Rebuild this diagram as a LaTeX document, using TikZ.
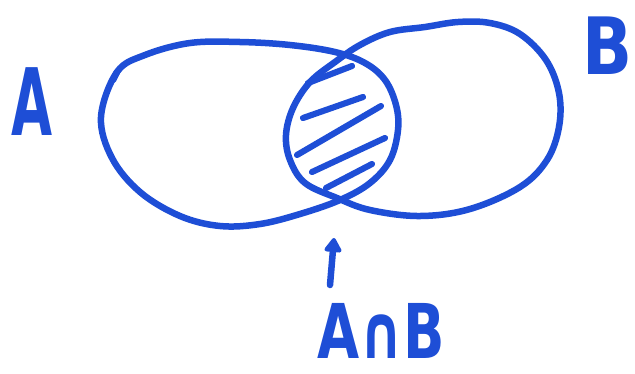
\documentclass[tikz,border=0pt]{standalone}
\usepackage{fontspec}
\setmainfont{DejaVu Sans}
\usetikzlibrary{arrows.meta}
\definecolor{pen}{RGB}{30,78,214}
\begin{document}
\begin{tikzpicture}[x=0.02cm,y=-0.02cm,
  stroke/.style={draw=pen,line width=3.7pt,line cap=round,line join=round},
  hatch/.style={draw=pen,line width=3.5pt,line cap=round},
  lbl/.style={text=pen,inner sep=0pt}]
\useasboundingbox (0,0) rectangle (635,373);
% left set
\draw[stroke] plot[smooth cycle,tension=0.6] coordinates {
  (117,72) (145,55) (190,43) (240,42) (290,45) (335,52) (365,63) (385,80)
  (396,105) (398,130) (390,160) (370,183) (340,200) (300,214) (260,224)
  (220,226) (180,216) (140,192) (112,158) (101,117)};
\draw[stroke] (117,72) -- (113,80);
% right set
\draw[stroke] plot[smooth cycle,tension=0.6] coordinates {
  (425,27) (458,22) (490,23) (520,34) (546,60) (559,93) (559,127) (547,160)
  (520,187) (470,209) (420,216) (370,210) (337,198) (305,183) (290,160)
  (286,135) (293,108) (310,82) (335,62) (360,45) (390,32)};
% hatching
\draw[hatch] (308,83) -- (352,66);
\draw[hatch] (303,118) -- (363,97);
\draw[hatch] (297,155) -- (381,106);
\draw[hatch] (312,172) -- (385,138);
\draw[hatch] (326,188) -- (372,164);
% labels
\node[lbl] (a) at (32,102) {\scalebox{0.57}[1]{\fontsize{53}{55}\selectfont\bfseries A}};
\node[lbl] (b) at (607,46) {\scalebox{0.83}[1]{\fontsize{45}{47}\selectfont\bfseries B}};
\node[lbl] (ab) at (381,331) {\scalebox{0.72}[1]{\fontsize{43}{45}\selectfont\bfseries A∩B}};
\coordinate (tip) at (334,238);
\coordinate (tail) at (330,285);
\draw[stroke,-{Triangle[length=9pt,width=11pt,round]}] (tail) -- (tip);
\end{tikzpicture}
\end{document}
